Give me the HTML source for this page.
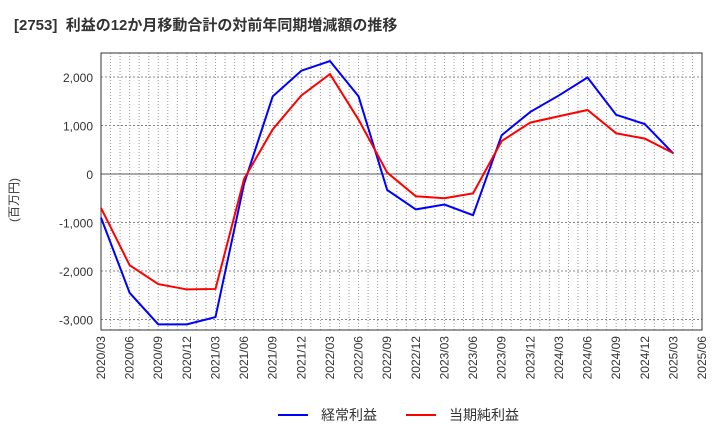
<!DOCTYPE html>
<html><head><meta charset="utf-8"><style>
body{margin:0;background:#fff;font-family:"Liberation Sans","Noto Sans CJK JP",sans-serif}
</style></head><body>
<svg id="c" width="720" height="440" xmlns="http://www.w3.org/2000/svg">
<text x="14" y="30" font-size="15" font-weight="bold" fill="#333" style="white-space:pre" font-family="Liberation Sans,Noto Sans CJK JP,sans-serif">[2753]  利益の12か月移動合計の対前年同期増減額の推移</text>
<text transform="translate(18,200) rotate(-90)" font-size="12" fill="#333" text-anchor="middle" font-family="Liberation Sans,Noto Sans CJK JP,sans-serif">(百万円)</text>
<g id="grid"></g><g id="axes"></g><g id="series"></g>
<g>
<line x1="278" y1="415" x2="308" y2="415" stroke="#0000ff" stroke-width="2"/>
<text x="321" y="420" font-size="14" fill="#333" font-family="Liberation Sans,Noto Sans CJK JP,sans-serif">経常利益</text>
<line x1="406" y1="415" x2="436" y2="415" stroke="#ff0000" stroke-width="2"/>
<text x="449" y="420" font-size="14" fill="#333" font-family="Liberation Sans,Noto Sans CJK JP,sans-serif">当期純利益</text>
</g>
</svg>
<script>
const categories=["2020/03","2020/06","2020/09","2020/12","2021/03","2021/06","2021/09","2021/12","2022/03","2022/06","2022/09","2022/12","2023/03","2023/06","2023/09","2023/12","2024/03","2024/06","2024/09","2024/12","2025/03","2025/06"];
const ordinaryProfit=[-900,-2450,-3100,-3100,-2950,-200,1600,2130,2330,1600,-330,-730,-630,-850,800,1280,1620,1990,1220,1030,420];
const netProfit=[-700,-1880,-2270,-2380,-2370,-100,920,1620,2060,1120,30,-460,-500,-400,680,1060,1190,1320,840,730,430];
const yTicks=[2000,1000,0,-1000,-2000,-3000];
const L=101,R=702,T=53,B=330;
const NS="http://www.w3.org/2000/svg";
const x=i=>L+(R-L)*i/(categories.length-1);
const y=v=>174-v*0.0485;
function mk(t,a,p){const e=document.createElementNS(NS,t);for(const k in a)e.setAttribute(k,a[k]);document.getElementById(p).appendChild(e);return e;}
for(let m=1;m<(categories.length-1)*3;m++){const xx=L+(R-L)*m/((categories.length-1)*3);
const g=mk('line',{x1:xx,x2:xx,y1:T,y2:B,stroke:'#999','stroke-dasharray':'1,2','stroke-width':1},'grid');

}
yTicks.forEach(v=>{const g=mk('line',{x1:L,x2:R,y1:y(v),y2:y(v),stroke:v===0?'#555':'#888','stroke-dasharray':v===0?'none':'2,2','stroke-width':1},'grid');


const t=mk('text',{x:L-8,y:y(v)+5,'font-size':12,fill:'#333','text-anchor':'end'},'axes');


t.textContent=v.toLocaleString('en-US');});
const fr=mk('rect',{x:L,y:T,width:R-L,height:B-T,fill:'none',stroke:'#333'},'axes');


categories.forEach((c,i)=>{const t=mk('text',{transform:`translate(${x(i)+4},${B+6}) rotate(-90)`,'font-size':12,fill:'#333','text-anchor':'end'},'axes');


t.textContent=c;});
function line(d,col,name){const p=mk('polyline',{points:d.map((v,i)=>x(i)+','+y(v)).join(' '),fill:'none',stroke:col,'stroke-width':2},'series');

}
line(ordinaryProfit,'#0000ff','ordinary-profit-line');
line(netProfit,'#ff0000','net-profit-line');
</script>
</body></html>
